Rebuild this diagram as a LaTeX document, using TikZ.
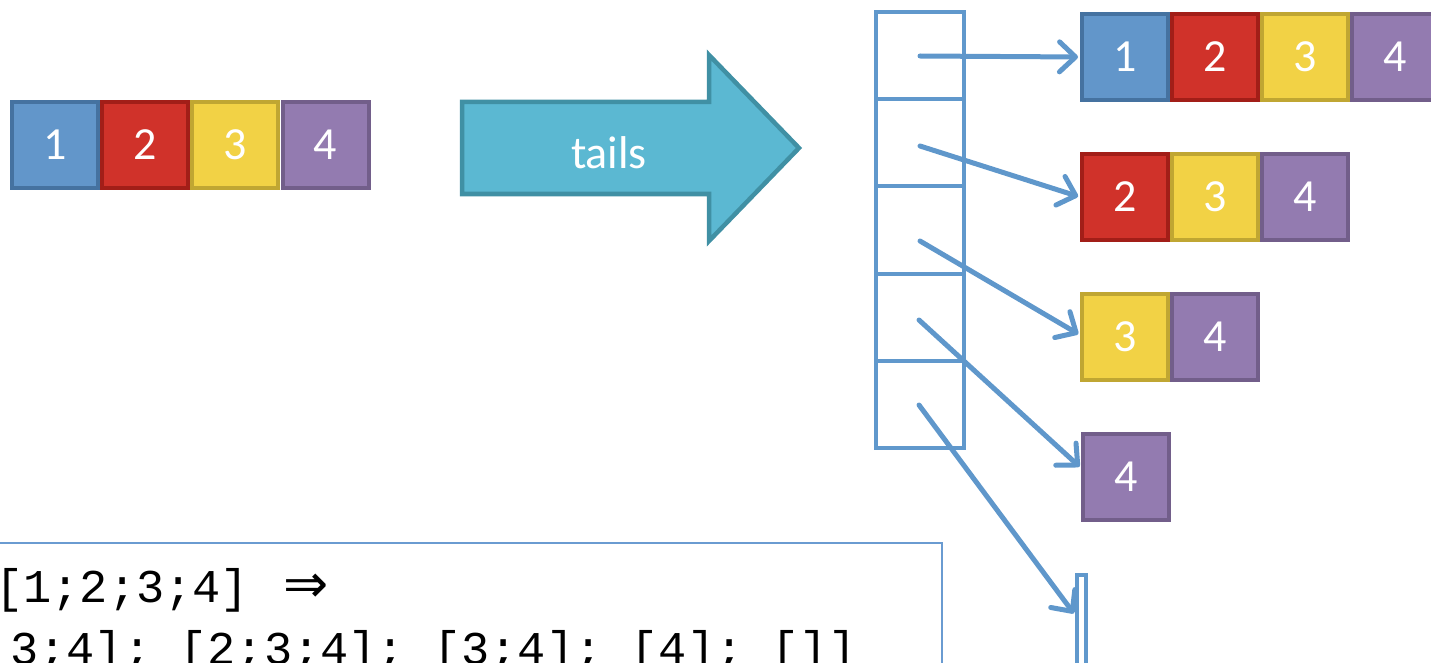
\documentclass[tikz,border=0pt]{standalone}
\usepackage{fontspec}
\setmainfont{Carlito}
\setmonofont{Liberation Mono}
\newfontfamily\arrowsym{DejaVu Sans}
\usetikzlibrary{arrows.meta,calc}

\definecolor{fillblue}{HTML}{6296CA}
\definecolor{edgeblue}{HTML}{4572A0}
\definecolor{fillred}{HTML}{D0322A}
\definecolor{edgered}{HTML}{A21E18}
\definecolor{fillyellow}{HTML}{F2D245}
\definecolor{edgeyellow}{HTML}{C0A632}
\definecolor{fillpurple}{HTML}{937BB0}
\definecolor{edgepurple}{HTML}{725E8A}
\definecolor{bigfill}{HTML}{5BB8D2}
\definecolor{bigedge}{HTML}{4090A4}
\definecolor{colblue}{HTML}{6098CC}
\definecolor{ptrblue}{HTML}{5F97CB}
\definecolor{framblue}{HTML}{6A9BD1}

\begin{document}
\begin{tikzpicture}[x=1pt,y=-1pt,
  elem/.style={draw, line width=4pt, minimum width=86pt, minimum height=86pt,
    inner sep=0pt, text=white, font=\fontsize{46}{52}\selectfont},
  eone/.style={elem, fill=fillblue, draw=edgeblue},
  etwo/.style={elem, fill=fillred, draw=edgered},
  ethree/.style={elem, fill=fillyellow, draw=edgeyellow},
  efour/.style={elem, fill=fillpurple, draw=edgepurple},
  cell/.style={draw=colblue, line width=4pt, minimum width=88pt,
    minimum height=87.2pt, inner sep=0pt},
  nilbox/.style={draw=colblue, fill=white, line width=4pt, minimum width=9pt,
    minimum height=120pt, inner sep=0pt},
  ptr/.style={draw=ptrblue, line width=5pt, line cap=round, shorten >=2pt,
    -{Straight Barb[length=16pt,width=30pt,round]}},
  code/.style={inner sep=0pt, anchor=base west,
    font=\ttfamily\fontsize{47}{56}\selectfont},
]
\useasboundingbox (0,0) rectangle (1431,663);
\clip (0,0) rectangle (1431,663);

% input list
\node[eone]   (a1) at (55,145)    {1};
\node[etwo]   (a2) at (145,145)   {2};
\node[ethree] (a3) at (235,145)   {3};
\node[efour]  (a4) at (325.5,145) {4};

% block arrow
\draw[fill=bigfill, draw=bigedge, line width=4.5pt, line join=miter]
  (462,102) -- (709,102) -- (709,55) -- (799,148) -- (709,241) -- (709,194)
  -- (462,194) -- cycle;
\node[text=white, font=\fontsize{46}{52}\selectfont] (tails) at (609,153) {tails};

% array of pointers (neighbouring cells share their borders)
\node[cell] (c1) at (920,55.6)  {};
\node[cell] (c2) at (920,142.8) {};
\node[cell] (c3) at (920,230)   {};
\node[cell] (c4) at (920,317.2) {};
\node[cell] (c5) at (920,404.4) {};

% the suffixes
\node[eone]   (t1a) at (1125,57) {1};
\node[etwo]   (t1b) at (1215,57) {2};
\node[ethree] (t1c) at (1305,57) {3};
\node[efour]  (t1d) at (1395,57) {4};

\node[etwo]   (t2a) at (1125,197) {2};
\node[ethree] (t2b) at (1215,197) {3};
\node[efour]  (t2c) at (1305,197) {4};

\node[ethree] (t3a) at (1125,337) {3};
\node[efour]  (t3b) at (1215,337) {4};

\node[efour]  (t4a) at (1126,477) {4};

\node[nilbox, anchor=north] (nil) at (1081.5,573) {};

% pointers
\coordinate (s1) at (920,56);
\coordinate (s2) at (920,146);
\coordinate (s3) at (920,241);
\coordinate (s4) at (919,320);
\coordinate (s5) at (919,405);
\coordinate (nilpt) at ($(nil.north west)+(0,42)$);

\draw[ptr] (s1) -- (t1a.west);
\draw[ptr] (s2) -- (t2a.west);
\draw[ptr] (s3) -- ($(t3a.west)+(0,-2)$);
\draw[ptr] (s4) -- ($(t4a.west)+(0,-9)$);
\draw[ptr] (s5) -- (nilpt);

% code sample
\draw[draw=framblue, line width=1.5pt] (-10,543) rectangle (942,720);
\node[code] (line1) at (-5,602)
  {[1;2;3;4]\hspace{6pt} {\arrowsym\fontsize{54}{60}\selectfont ⇒}};
\node[code] (line2) at (-159,664) {[[1;2;3;4]; [2;3;4]; [3;4]; [4]; []]};
\end{tikzpicture}
\end{document}
